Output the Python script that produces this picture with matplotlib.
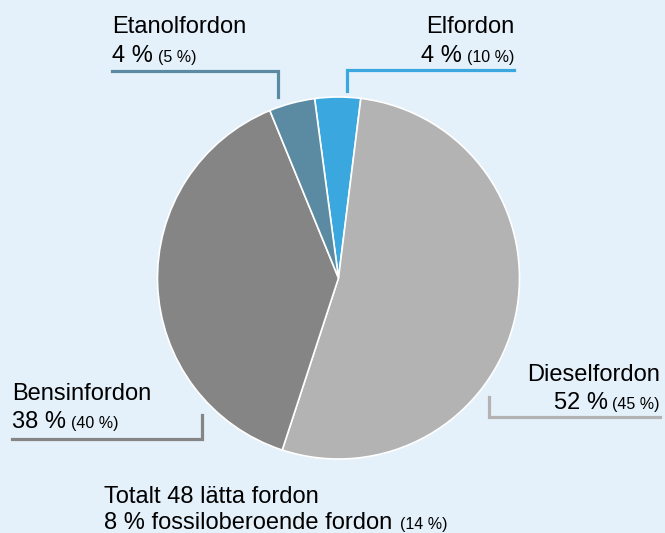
import matplotlib.pyplot as plt

# Data
fordon = ["Elfordon", "Dieselfordon", "Bensinfordon", "Etanolfordon"]
andel = [4, 52, 38, 4]
jamfor = [10, 45, 40, 5]
farger = ["#3aa8df", "#b3b3b3", "#858585", "#5a8ba2"]
total_text = "Totalt 48 lätta fordon"
fossilfri = 8
fossilfri_jamfor = 14

bg = "#e4f1fa"
H = 533

plt.rcParams["font.family"] = ["Liberation Sans", "DejaVu Sans"]

fig = plt.figure(figsize=(6.65, 5.33), dpi=100, facecolor=bg)
ax = fig.add_axes([0, 0, 1, 1])
ax.set_facecolor(bg)

ax.pie(andel, colors=farger, startangle=97.6, counterclock=False,
       center=(338.5, H - 278), radius=181,
       wedgeprops=dict(edgecolor="white", linewidth=1.2))
ax.set_xlim(0, 665)
ax.set_ylim(0, H)
ax.set_aspect("equal")
ax.axis("off")

renderer = fig.canvas.get_renderer()


def etikett(namn, pct, jmf, x, y_namn, y_pct, ha):
    ax.text(x, H - y_namn, namn, fontsize=17, ha=ha, va="baseline")
    if ha == "left":
        t = ax.text(x, H - y_pct, f"{pct} %", fontsize=17, ha="left", va="baseline")
        bb = t.get_window_extent(renderer)
        ax.text(bb.x1 + 5, H - y_pct, f"({jmf} %)", fontsize=11.5, ha="left", va="baseline")
    else:
        s = ax.text(x, H - y_pct, f"({jmf} %)", fontsize=11.5, ha="right", va="baseline")
        bb = s.get_window_extent(renderer)
        ax.text(bb.x0 - 5, H - y_pct, f"{pct} %", fontsize=17, ha="right", va="baseline")


# Etanolfordon
etikett(fordon[3], andel[3], jamfor[3], 112, 33, 62, "left")
ax.plot([112, 278, 278], [H - 71, H - 71, H - 97], color=farger[3], lw=2.3,
        solid_joinstyle="miter")

# Elfordon
etikett(fordon[0], andel[0], jamfor[0], 514, 33, 62, "right")
ax.plot([514, 347, 347], [H - 70, H - 70, H - 91], color=farger[0], lw=2.3,
        solid_joinstyle="miter")

# Bensinfordon
etikett(fordon[2], andel[2], jamfor[2], 12, 400, 428, "left")
ax.plot([12, 202, 202], [H - 439, H - 439, H - 415], color=farger[2], lw=2.3,
        solid_joinstyle="miter")

# Dieselfordon
etikett(fordon[1], andel[1], jamfor[1], 660, 381, 409, "right")
ax.plot([660, 489, 489], [H - 417, H - 417, H - 397], color=farger[1], lw=2.3,
        solid_joinstyle="miter")

# Summering
ax.text(104, H - 503, total_text, fontsize=17, ha="left", va="baseline")
t = ax.text(104, H - 529, f"{fossilfri} % fossiloberoende fordon", fontsize=17,
            ha="left", va="baseline")
bb = t.get_window_extent(renderer)
ax.text(bb.x1 + 8, H - 529, f"({fossilfri_jamfor} %)", fontsize=11.5,
        ha="left", va="baseline")

fig.savefig("out.png", dpi=100, facecolor=bg)
